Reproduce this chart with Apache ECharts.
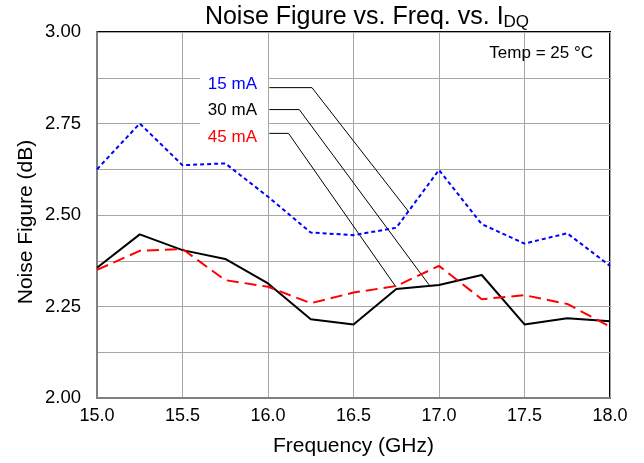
<!DOCTYPE html>
<html>
<head>
<meta charset="utf-8">
<script src="https://cdn.jsdelivr.net/npm/echarts@6/dist/echarts.min.js"></script>
<style>
  html, body { margin: 0; padding: 0; background: #fff; }
  #chart { width: 644px; height: 463px; }
</style>
</head>
<body>
<div id="chart"></div>
<script>
// frequency points (GHz)
const freq = [15.0, 15.25, 15.5, 15.75, 16.0, 16.25, 16.5, 16.75, 17.0, 17.25, 17.5, 17.75, 18.0]

// noise figure (dB) per bias current
const nf15 = [2.625, 2.75, 2.636, 2.641, 2.55, 2.452, 2.445, 2.465, 2.623, 2.475, 2.422, 2.45, 2.361]
const nf30 = [2.356, 2.447, 2.404, 2.38, 2.313, 2.215, 2.201, 2.298, 2.309, 2.336, 2.201, 2.218, 2.21]
const nf45 = [2.35, 2.402, 2.407, 2.322, 2.304, 2.259, 2.288, 2.306, 2.361, 2.27, 2.281, 2.257, 2.195]

// leader lines from the labels to the curves (data coords)
const lead15 = [[16.008, 2.848], [16.257, 2.848], [16.824, 2.508]]
const lead30 = [[16.008, 2.788], [16.183, 2.788], [16.942, 2.309]]
const lead45 = [[16.008, 2.723], [16.12, 2.723], [16.749, 2.303]]

const labels = ['15 mA', '30 mA', '45 mA']
const colors = ['#0000ff', '#000000', '#ff0000']

const FONT = 'Liberation Sans, Arial, sans-serif'

function pairs(ys) { return freq.map((f, i) => [f, ys[i]]) }

function leader(d) {
  return {
    type: 'line', data: d, symbol: 'none', silent: true, z: 3,
    lineStyle: { color: '#000', width: 1 }
  }
}

const chart = echarts.init(document.getElementById('chart'))
chart.setOption({
  animation: false,
  textStyle: { fontFamily: FONT },
  title: {
    text: 'Noise Figure vs. Freq. vs. I{sub|DQ}',
    left: 362, top: -2, textAlign: 'center',
    textStyle: {
      fontFamily: FONT, fontSize: 25, fontWeight: 'normal', color: '#000',
      rich: { sub: { fontFamily: FONT, fontSize: 17, color: '#000', verticalAlign: 'bottom', padding: [11, 0, 0, 0] } }
    }
  },
  grid: {
    left: 97, right: 34, top: 32, bottom: 65,
    show: true, borderColor: '#000', borderWidth: 2, backgroundColor: '#fff'
  },
  xAxis: {
    type: 'value', min: 15, max: 18, interval: 0.5,
    name: 'Frequency (GHz)', nameLocation: 'middle', nameGap: 38,
    nameTextStyle: { fontFamily: FONT, fontSize: 21, color: '#000' },
    axisLine: { show: true, lineStyle: { color: '#808080', width: 2 } },
    axisTick: { show: false },
    axisLabel: { fontFamily: FONT, fontSize: 18, color: '#000', margin: 9, formatter: v => v.toFixed(1) },
    splitLine: { show: true, lineStyle: { color: '#a6a6a6', width: 1 } }
  },
  yAxis: {
    type: 'value', min: 2, max: 3, interval: 0.125,
    axisLine: { show: true, lineStyle: { color: '#808080', width: 2 } },
    axisTick: { show: false },
    axisLabel: {
      fontFamily: FONT, fontSize: 18.5, color: '#000', margin: 16,
      formatter: v => (Math.round(v * 1000) % 250 === 0 ? v.toFixed(2) : '')
    },
    splitLine: { show: true, lineStyle: { color: '#a6a6a6', width: 1 } }
  },
  series: [
    {
      name: labels[0], type: 'line', data: pairs(nf15), symbol: 'none', z: 4,
      lineStyle: { color: colors[0], width: 2, type: [4, 3] }
    },
    {
      name: labels[1], type: 'line', data: pairs(nf30), symbol: 'none', z: 4,
      lineStyle: { color: colors[1], width: 2 }
    },
    {
      name: labels[2], type: 'line', data: pairs(nf45), symbol: 'none', z: 4,
      lineStyle: { color: colors[2], width: 2, type: [12, 6] }
    },
    leader(lead15), leader(lead30), leader(lead45)
  ],
  graphic: [
    { type: 'text', x: 26, y: 222, rotation: Math.PI / 2, style: { text: 'Noise Figure (dB)', fill: '#000', font: '21px ' + FONT, align: 'center', verticalAlign: 'middle' } },
    { type: 'rect', shape: { x: 200, y: 77, width: 68, height: 72 }, style: { fill: '#fff' }, z: 2 },
    { type: 'text', x: 257, y: 84, z: 5, style: { text: labels[0], fill: colors[0], font: '17px ' + FONT, align: 'right', verticalAlign: 'middle' } },
    { type: 'text', x: 257, y: 110, z: 5, style: { text: labels[1], fill: colors[1], font: '17px ' + FONT, align: 'right', verticalAlign: 'middle' } },
    { type: 'text', x: 257, y: 137, z: 5, style: { text: labels[2], fill: colors[2], font: '17px ' + FONT, align: 'right', verticalAlign: 'middle' } },
    { type: 'text', x: 593, y: 53, z: 5, style: { text: 'Temp = 25 °C', fill: '#000', font: '17px ' + FONT, align: 'right', verticalAlign: 'middle' } }
  ]
})
</script>
</body>
</html>
